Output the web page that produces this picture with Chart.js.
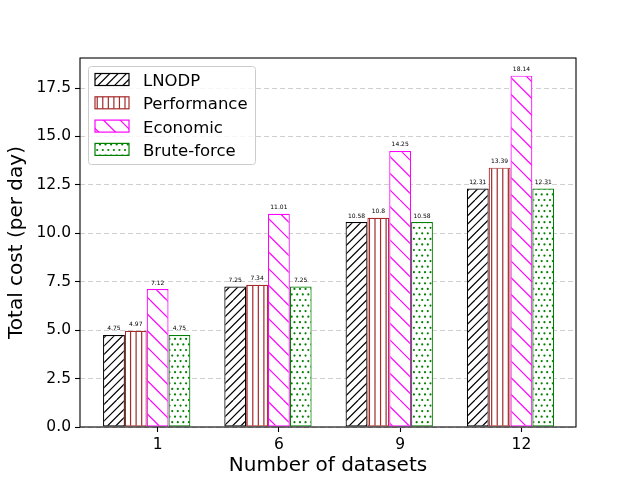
<!DOCTYPE html>
<html>
<head>
<meta charset="utf-8">
<script src="https://cdn.jsdelivr.net/npm/chart.js@4.4.0/dist/chart.umd.min.js"></script>
<style>
  html, body { margin: 0; padding: 0; background: #fff; }
  canvas { display: block; }
</style>
</head>
<body>
<canvas id="costChart" width="640" height="480"></canvas>
<script>
// values
const datasetCounts = ['1', '6', '9', '12'];
const lnodpCost = [4.75, 7.25, 10.58, 12.31];
const performanceCost = [4.97, 7.34, 10.8, 13.39];
const economicCost = [7.12, 11.01, 14.25, 18.14];
const bruteForceCost = [4.75, 7.25, 10.58, 12.31];
const yTicks = [0, 2.5, 5, 7.5, 10, 12.5, 15, 17.5];

const FONT = 'DejaVu Sans';

// hatch tile of one inch (100px), same density rule as matplotlib
function hatch(kind, color, count) {
    const size = 100;
    const c = document.createElement('canvas');
    c.width = size;
    c.height = size;
    const g = c.getContext('2d');
    g.fillStyle = '#fff';
    g.fillRect(0, 0, size, size);
    g.strokeStyle = color;
    g.fillStyle = color;
    g.lineWidth = 1.2;
    const step = size / count;
    if (kind === '/' || kind === '\\') {
        g.beginPath();
        for (let k = -count; k <= count; k++) {
            const x0 = k * step;
            if (kind === '/') { g.moveTo(x0, size); g.lineTo(x0 + size, 0); }
            else { g.moveTo(x0, 0); g.lineTo(x0 + size, size); }
        }
        g.stroke();
    } else if (kind === '|') {
        g.beginPath();
        for (let k = 0; k < count; k++) {
            const x = k * step + step / 2;
            g.moveTo(x, 0);
            g.lineTo(x, size);
        }
        g.stroke();
    } else if (kind === '.') {
        for (let r = 0; r <= count; r++) {
            const shift = r % 2 ? step / 2 : 0;
            for (let k = 0; k <= count; k++) {
                g.beginPath();
                g.arc(k * step + shift, r * step, 1.1, 0, Math.PI * 2);
                g.fill();
            }
        }
    }
    return g.createPattern(c, 'repeat');
}

const toPoints = vals => vals.map((v, i) => ({ x: i, y: v }));

function series(label, vals, color, kind, count) {
    return {
        label: label,
        data: toPoints(vals),
        backgroundColor: hatch(kind, color, count),
        borderColor: color,
        borderWidth: 1.2,
        borderSkipped: false
    };
}

// value text above every bar
const barLabels = {
    id: 'barLabels',
    afterDatasetsDraw(chart) {
        const ctx = chart.ctx;
        ctx.save();
        ctx.fillStyle = '#000';
        ctx.font = '6px ' + FONT;
        ctx.textAlign = 'center';
        ctx.textBaseline = 'alphabetic';
        chart.data.datasets.forEach((ds, di) => {
            if (!ds.label) return;
            chart.getDatasetMeta(di).data.forEach((el, i) => {
                ctx.fillText(String(ds.data[i].y), el.x, el.y - 4.5);
            });
        });
        ctx.restore();
    }
};

// full box round the axes, then the legend in the upper left
const frameAndLegend = {
    id: 'frameAndLegend',
    afterDatasetsDraw(chart) {
        const ctx = chart.ctx;
        const a = chart.chartArea;
        ctx.save();
        ctx.strokeStyle = '#000';
        ctx.lineWidth = 1.1;
        ctx.strokeRect(a.left, a.top, a.right - a.left, a.bottom - a.top);

        const bx = a.left + 8, by = a.top + 8, bw = 167, bh = 98;
        ctx.beginPath();
        ctx.roundRect(bx + 0.5, by + 0.5, bw, bh, 3);
        ctx.fillStyle = 'rgba(255,255,255,0.8)';
        ctx.fill();
        ctx.strokeStyle = '#cccccc';
        ctx.lineWidth = 1;
        ctx.stroke();

        ctx.font = '16.5px ' + FONT;
        ctx.textAlign = 'left';
        ctx.textBaseline = 'alphabetic';
        let row = 0;
        chart.data.datasets.forEach(ds => {
            if (!ds.label) return;
            const cy = by + 13.5 + row * 23.3;
            ctx.fillStyle = ds.backgroundColor;
            ctx.fillRect(bx + 7, cy - 6, 34, 12);
            ctx.strokeStyle = ds.borderColor;
            ctx.lineWidth = 1.2;
            ctx.strokeRect(bx + 7, cy - 6, 34, 12);
            ctx.fillStyle = '#000';
            ctx.fillText(ds.label, bx + 55, cy + 6.5);
            row++;
        });
        ctx.restore();
    }
};

const ctx = document.getElementById('costChart').getContext('2d');
new Chart(ctx, {
    type: 'bar',
    data: {
        datasets: [
            series('LNODP', lnodpCost, '#000000', '/', 12),
            series('Performance', performanceCost, '#a52a2a', '|', 18),
            series('Economic', economicCost, '#ff00ff', '\\', 6),
            series('Brute-force', bruteForceCost, '#008000', '.', 18),
            // empty fifth slot so the tick sits under the third bar, as in the original
            { label: '', data: toPoints(datasetCounts.map(() => null)), backgroundColor: 'rgba(0,0,0,0)', borderWidth: 0 }
        ]
    },
    options: {
        responsive: false,
        animation: false,
        devicePixelRatio: 1,
        categoryPercentage: 0.9,
        barPercentage: 1.0,
        layout: { padding: { left: 0, top: 58, right: 64, bottom: 0 } },
        plugins: {
            legend: { display: false },
            tooltip: { enabled: false }
        },
        scales: {
            x: {
                type: 'linear',
                min: -0.64,
                max: 3.45,
                offset: false,
                afterFit: s => { s.height = 53; },
                afterBuildTicks: s => { s.ticks = datasetCounts.map((c, i) => ({ value: i })); },
                ticks: {
                    callback: v => datasetCounts[v],
                    color: '#000',
                    font: { family: FONT, size: 15.5 },
                    padding: 4,
                    maxRotation: 0,
                    autoSkip: false
                },
                grid: { offset: false, drawOnChartArea: false, drawTicks: true, tickLength: 5, tickColor: '#000', tickWidth: 1.1 },
                border: { display: false },
                title: {
                    display: true,
                    text: 'Number of datasets',
                    color: '#000',
                    font: { family: FONT, size: 20 },
                    padding: { top: 0, bottom: 2 }
                }
            },
            y: {
                min: 0,
                max: 19.05,
                afterFit: s => { s.width = 80; },
                afterBuildTicks: s => { s.ticks = yTicks.map(v => ({ value: v })); },
                ticks: {
                    callback: v => v.toFixed(1),
                    color: '#000',
                    font: { family: FONT, size: 15.5 },
                    padding: 4
                },
                grid: { color: '#d0d0d0', lineWidth: 1, drawTicks: true, tickLength: 5, tickColor: '#000', tickWidth: 1.1 },
                border: { display: false, dash: [5, 3] },
                title: {
                    display: true,
                    text: 'Total cost (per day)',
                    color: '#000',
                    font: { family: FONT, size: 20 },
                    padding: { top: 5, bottom: 0 }
                }
            }
        }
    },
    plugins: [barLabels, frameAndLegend]
});
</script>
</body>
</html>
